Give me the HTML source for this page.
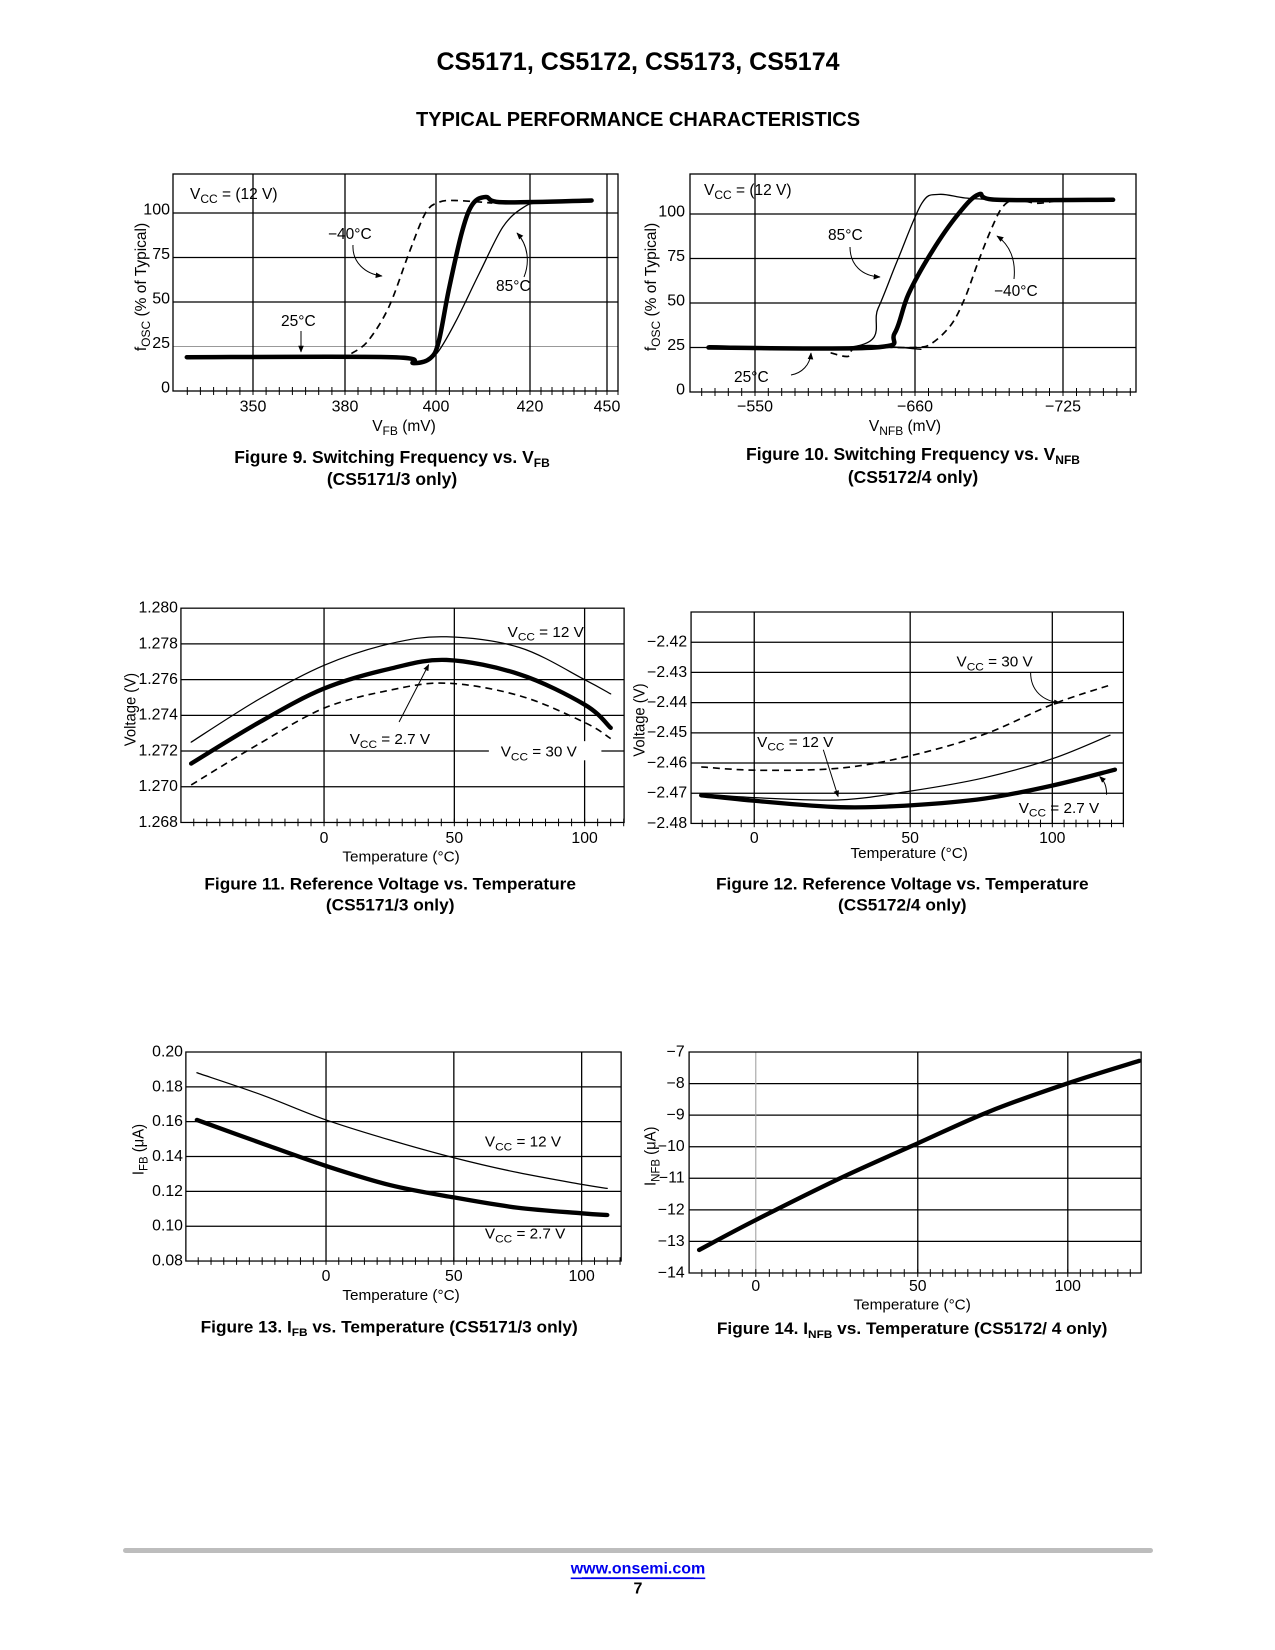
<!DOCTYPE html>
<html><head><meta charset="utf-8"><style>
html,body{margin:0;padding:0;background:#fff;}
body{width:1275px;height:1650px;position:relative;overflow:hidden;font-family:"Liberation Sans",Arial,sans-serif;}
svg{position:absolute;left:0;top:0;}
</style></head><body>
<svg id="page" width="1275" height="1650" viewBox="0 0 1275 1650" font-family="Liberation Sans, Arial, sans-serif">
<defs><marker id="ah" viewBox="0 0 10 10" refX="9" refY="5" markerWidth="7" markerHeight="7" orient="auto"><path d="M0,1 L10,5 L0,9 z" fill="#000"/></marker></defs>
<text x="638" y="62" text-anchor="middle" dominant-baseline="central" font-weight="bold" font-size="25">CS5171, CS5172, CS5173, CS5174</text>
<text x="638" y="120" text-anchor="middle" dominant-baseline="central" font-weight="bold" font-size="20">TYPICAL PERFORMANCE CHARACTERISTICS</text>
<rect x="123" y="1548" width="1030" height="5" rx="2.5" fill="#bdbdbd"/>
<a href="#"><text x="638" y="1569" text-anchor="middle" dominant-baseline="central" font-weight="bold" font-size="16" fill="#0000ee" text-decoration="underline">www.onsemi.com</text></a>
<line x1="582" y1="1578" x2="694" y2="1578" stroke="#0000ee" stroke-width="1.5"/>
<text x="638" y="1589" text-anchor="middle" dominant-baseline="central" font-weight="bold" font-size="16">7</text>
<g id="charts"></g>
</svg>
<script>
// ---------- DATA ----------
// Figure 9 (x: mV, y: % of typical)
const fig9XTicks = [350, 380, 400, 420, 450];
const fig9XLabels = ['350', '380', '400', '420', '450'];
const fig9YTicks = [0, 25, 50, 75, 100];
const fig9YLabels = ['0', '25', '50', '75', '100'];
const fig9X25 = [328.4, 390.4, 395.1, 398.8, 400.6, 402.8, 405.6, 407.8, 410.6, 414.2, 444];
const fig9Y25 = [19, 19, 15.7, 18.5, 28, 58, 90, 105, 109, 106, 107];
const fig9X85 = [398.8, 400.6, 404.2, 409.2, 414.2, 418.5, 424.2, 444];
const fig9Y85 = [18.5, 22.5, 39, 66, 92, 103, 106, 107];
const fig9XM40 = [381.4, 385, 389.6, 394, 397.7, 400.6, 404.2, 412];
const fig9YM40 = [21, 28, 47, 77, 100, 106, 107, 105.6];
// Figure 10 (x: |mV|)
const fig10XTicks = [550, 660, 725];
const fig10XLabels = ['\u2212550', '\u2212660', '\u2212725'];
const fig10YTicks = [0, 25, 50, 75, 100];
const fig10YLabels = ['0', '25', '50', '75', '100'];
const fig10X25 = [518, 632.5, 646, 655.5, 667.5, 679, 688, 696, 747];
const fig10Y25 = [25, 25, 33, 55, 79, 100, 111, 108, 108];
const fig10X85 = [518.4, 621, 634.6, 648, 663, 670.5, 682, 696];
const fig10Y85 = [26, 26, 47, 74, 106, 111, 109, 108];
const fig10XTail = [621, 634.6, 662.6];
const fig10YTail = [26, 26, 24];
const fig10XM40 = [602, 614, 621, 660, 667.5, 676, 682, 688, 694, 698.5, 704, 714, 723.5];
const fig10YM40 = [22, 20, 25, 25, 27.5, 38, 53, 74, 93, 104, 108, 106, 108];
// Figure 11
const fig11XTicks = [0, 50, 100];
const fig11XLabels = ['0', '50', '100'];
const fig11YTicks = [1.268, 1.270, 1.272, 1.274, 1.276, 1.278, 1.280];
const fig11YLabels = ['1.268', '1.270', '1.272', '1.274', '1.276', '1.278', '1.280'];
const fig11Temp = [-51, -25, 0, 25, 47, 75, 100, 110];
const fig11V12 = [1.2725, 1.2749, 1.2768, 1.2780, 1.2784, 1.2778, 1.2760, 1.2752];
const fig11V27 = [1.2713, 1.2736, 1.2755, 1.2766, 1.2771, 1.2763, 1.2746, 1.2733];
const fig11V30 = [1.2701, 1.2724, 1.2744, 1.2754, 1.2758, 1.2751, 1.2736, 1.2727];
// Figure 12
const fig12XTicks = [0, 50, 100];
const fig12XLabels = ['0', '50', '100'];
const fig12YTicks = [-2.48, -2.47, -2.46, -2.45, -2.44, -2.43, -2.42];
const fig12YLabels = ['\u22122.48', '\u22122.47', '\u22122.46', '\u22122.45', '\u22122.44', '\u22122.43', '\u22122.42'];
const fig12Temp = [-17, 1, 27.5, 50, 76, 100.3, 120.3];
const fig12V30 = [-2.4613, -2.4624, -2.4617, -2.4576, -2.4505, -2.4405, -2.4342];
const fig12V12 = [-2.4702, -2.4715, -2.4722, -2.4693, -2.4649, -2.4585, -2.4508];
const fig12Temp27 = [-17, 1, 27.5, 50, 76, 100.3, 122];
const fig12V27 = [-2.4707, -2.4726, -2.4746, -2.4740, -2.4718, -2.4674, -2.4622];
// Figure 13
const fig13XTicks = [0, 50, 100];
const fig13XLabels = ['0', '50', '100'];
const fig13YTicks = [0.08, 0.10, 0.12, 0.14, 0.16, 0.18, 0.20];
const fig13YLabels = ['0.08', '0.10', '0.12', '0.14', '0.16', '0.18', '0.20'];
const fig13Temp = [-50.5, -25, 0, 25, 50, 75, 100, 110];
const fig13I12 = [0.1881, 0.1753, 0.1610, 0.1495, 0.1393, 0.1308, 0.1240, 0.1217];
const fig13I27 = [0.1610, 0.1475, 0.1346, 0.1236, 0.1165, 0.1106, 0.1074, 0.1064];
// Figure 14
const fig14XTicks = [0, 50, 100];
const fig14XLabels = ['0', '50', '100'];
const fig14YTicks = [-14, -13, -12, -11, -10, -9, -8, -7];
const fig14YLabels = ['\u221214', '\u221213', '\u221212', '\u221211', '\u221210', '\u22129', '\u22128', '\u22127'];
const fig14Temp = [-17.5, 0, 26, 50, 73.7, 100, 123.8];
const fig14I = [-13.27, -12.32, -11.0, -9.89, -8.89, -7.99, -7.28];

// ---------- HELPERS ----------
const NS = 'http://www.w3.org/2000/svg';
const root = document.getElementById('charts');
function mk(tag, attrs, parent) {
  const e = document.createElementNS(NS, tag);
  for (const k in attrs) e.setAttribute(k, attrs[k]);
  (parent || root).appendChild(e);
  return e;
}
function pw(d, r) {
  return v => {
    let i = 0;
    while (i < d.length - 2 && v > d[i + 1]) i++;
    return r[i] + (v - d[i]) * (r[i + 1] - r[i]) / (d[i + 1] - d[i]);
  };
}
function smooth(pts) {
  let s = 'M' + pts[0][0].toFixed(1) + ',' + pts[0][1].toFixed(1);
  for (let i = 0; i < pts.length - 1; i++) {
    const p0 = pts[i - 1] || pts[i], p1 = pts[i], p2 = pts[i + 1], p3 = pts[i + 2] || p2;
    const c1 = [p1[0] + (p2[0] - p0[0]) / 6, p1[1] + (p2[1] - p0[1]) / 6];
    const c2 = [p2[0] - (p3[0] - p1[0]) / 6, p2[1] - (p3[1] - p1[1]) / 6];
    s += ' C' + c1.map(v => v.toFixed(1)) + ' ' + c2.map(v => v.toFixed(1)) + ' ' + p2.map(v => v.toFixed(1));
  }
  return s;
}
function richText(g, x, y, parts, opts) {
  const t = mk('text', Object.assign({x: x, y: y, 'font-size': 15.5, 'dominant-baseline': 'alphabetic'}, opts || {}), g);
  let shift = 0;
  parts.forEach(p => {
    const sp = mk('tspan', {}, t);
    const want = p[1] ? 4 : 0;
    if (want !== shift) { sp.setAttribute('dy', want - shift); shift = want; }
    if (p[1]) sp.setAttribute('font-size', '12');
    sp.textContent = p[0];
  });
  return t;
}
function series(g, xs, ys, X, Y, style, name) {
  const pts = X.map((v, i) => [xs(v), ys(Y[i])]);
  const p = mk('path', {d: smooth(pts), fill: 'none', stroke: '#000', 'stroke-linecap': 'round', 'stroke-linejoin': 'round'}, g);
  if (style === 'thick') p.setAttribute('stroke-width', '4.5');
  else if (style === 'dash') { p.setAttribute('stroke-width', '1.7'); p.setAttribute('stroke-dasharray', '7,5'); p.setAttribute('stroke-linecap', 'butt'); }
  else p.setAttribute('stroke-width', '1.3');
  
  
  return p;
}
function arrow(g, d, name) {
  const a = mk('path', {d: d, fill: 'none', stroke: '#000', 'stroke-width': 1, 'marker-end': 'url(#ah)'}, g);
  
  
}
function frame(c) {
  const g = mk('g', {});
  
  
  if (c.origin) {
    const kx = 0.987, ky = 2.87 / 3, ox = c.origin[0], oy = c.origin[1];
    g.setAttribute('transform', 'translate(' + ox + ',' + oy + ') scale(' + kx + ',' + ky + ') translate(' + (-ox) + ',' + (-oy) + ')');
  }
  c.yTicks.forEach((v, i) => {
    const y = c.ys(v);
    if (y > c.T + 1 && y < c.B - 1) {
      const l = mk('line', {x1: c.L, x2: c.R, y1: y, y2: y, stroke: (c.grayY === v ? '#999' : '#000'), 'stroke-width': (c.grayY === v ? 1 : 1.3)}, g);
      
      
    }
    const t = mk('text', {x: c.yLabX, y: y + (c.yLabDy || 0), 'text-anchor': 'end', 'dominant-baseline': 'central', 'font-size': 16}, g);
    
    
    t.textContent = c.yLabels[i];
  });
  const px = c.xTicks.map(v => c.xs(v));
  c.xTicks.forEach((v, i) => {
    const x = px[i];
    if (x > c.L + 1 && x < c.R - 1) {
      const l = mk('line', {x1: x, x2: x, y1: c.T, y2: c.B, stroke: (c.grayX === v ? '#999' : '#000'), 'stroke-width': (c.grayX === v ? 1 : 1.3)}, g);
      
      
    }
    const t = mk('text', {x: x, y: c.xLabY, 'text-anchor': 'middle', 'dominant-baseline': 'central', 'font-size': 16}, g);
    
    
    t.textContent = c.xLabels[i];
  });
  const tk = [];
  for (let i = 0; i < px.length - 1; i++) {
    const n = c.minor[i], st = (px[i + 1] - px[i]) / n;
    for (let k = 0; k <= n; k++) tk.push(px[i] + k * st);
  }
  const s0 = (px[1] - px[0]) / c.minor[0];
  for (let x = px[0] - s0; x > c.L + 2; x -= s0) tk.push(x);
  const sn = (px[px.length - 1] - px[px.length - 2]) / c.minor[c.minor.length - 1];
  for (let x = px[px.length - 1] + sn; x < c.R + 1; x += sn) tk.push(x);
  let d = '';
  tk.forEach(x => { d += 'M' + x.toFixed(1) + ',' + (c.B - 4) + 'V' + (c.B + 4); });
  const ticks = mk('path', {d: d, stroke: '#000', 'stroke-width': 1}, g);
  
  
  const box = mk('rect', {x: c.L, y: c.T, width: c.R - c.L, height: c.B - c.T, fill: 'none', stroke: '#000', 'stroke-width': 1.3}, g);
  
  
  const xt = richText(g, c.xTitle[0], c.xTitle[1], c.xTitle[2], {'text-anchor': 'middle'});
  
  
  const yt = richText(g, 0, 0, c.yTitle[2], {'text-anchor': 'middle', transform: 'translate(' + c.yTitle[0] + ',' + c.yTitle[1] + ') rotate(-90)'});
  
  
  c.caption.forEach((ln, i) => {
    const ct = richText(g, c.capX, c.capY[i], ln, {'text-anchor': 'middle', 'font-weight': 'bold', 'font-size': 17.5});
    
    
  });
  return g;
}

// ---------- FIGURE 9 ----------
(function () {
  const c = {name: 'figure-9-chart', L: 173, T: 174, R: 618, B: 391,
    xs: pw(fig9XTicks, [253, 345, 436, 530, 607]), ys: pw([0, 100], [391, 213]),
    xTicks: fig9XTicks, xLabels: fig9XLabels, yTicks: fig9YTicks, yLabels: fig9YLabels, grayY: 25,
    yLabX: 170, yLabDy: -3, xLabY: 407, minor: [7, 7, 7, 7],
    xTitle: [404, 431, [['V'], ['FB', 1], [' (mV)']]],
    yTitle: [146, 287, [['f'], ['OSC', 1], [' (% of Typical)']]],
    capX: 392, capY: [463, 485], caption: [[['Figure 9. Switching Frequency vs. V'], ['FB', 1]], [['(CS5171/3 only)']]]};
  const g = frame(c);
  series(g, c.xs, c.ys, fig9XM40, fig9YM40, 'dash', 'series-minus40c');
  series(g, c.xs, c.ys, fig9X85, fig9Y85, 'thin', 'series-85c');
  series(g, c.xs, c.ys, fig9X25, fig9Y25, 'thick', 'series-25c');
  let t = richText(g, 190, 199, [['V'], ['CC', 1], [' = (12 V)']]);  
  t = richText(g, 328, 239, [['\u221240\u00b0C']]);  
  t = richText(g, 496, 291, [['85\u00b0C']]);  
  t = richText(g, 281, 326, [['25\u00b0C']]);  
  arrow(g, 'M353,245 C352,262 365,274 382,276', 'arrow-minus40c');
  arrow(g, 'M524,277 C530,262 528,245 517,233', 'arrow-85c');
  arrow(g, 'M301,331 L301,352', 'arrow-25c');
})();

// ---------- FIGURE 10 ----------
(function () {
  const c = {name: 'figure-10-chart', L: 690, T: 174, R: 1136, B: 392,
    xs: pw(fig10XTicks, [755, 915, 1063]), ys: pw([0, 100], [392, 214]),
    xTicks: fig10XTicks, xLabels: fig10XLabels, yTicks: fig10YTicks, yLabels: fig10YLabels,
    yLabX: 685, yLabDy: -2, xLabY: 407, minor: [12, 11],
    xTitle: [905, 431, [['V'], ['NFB', 1], [' (mV)']]],
    yTitle: [656, 287, [['f'], ['OSC', 1], [' (% of Typical)']]],
    capX: 913, capY: [460, 483], caption: [[['Figure 10. Switching Frequency vs. V'], ['NFB', 1]], [['(CS5172/4 only)']]]};
  const g = frame(c);
  series(g, c.xs, c.ys, fig10XM40, fig10YM40, 'dash', 'series-minus40c');
  series(g, c.xs, c.ys, fig10XTail, fig10YTail, 'thin', 'series-85c-tail');
  series(g, c.xs, c.ys, fig10X85, fig10Y85, 'thin', 'series-85c');
  series(g, c.xs, c.ys, fig10X25, fig10Y25, 'thick', 'series-25c');
  let t = richText(g, 704, 195, [['V'], ['CC', 1], [' = (12 V)']]);  
  t = richText(g, 828, 240, [['85\u00b0C']]);  
  t = richText(g, 994, 296, [['\u221240\u00b0C']]);  
  t = richText(g, 734, 382, [['25\u00b0C']]);  
  arrow(g, 'M850,247 C850,265 862,276 880,277', 'arrow-85c');
  arrow(g, 'M1014,279 C1016,260 1010,245 997,236', 'arrow-minus40c');
  arrow(g, 'M791,375 C802,373 810,365 811,353', 'arrow-25c');
})();

// ---------- FIGURE 11 ----------
(function () {
  const c = {name: 'figure-11-chart', origin: [100, 590], L: 182, T: 609, R: 631, B: 833,
    xs: pw([0, 100], [327, 591]), ys: pw([1.268, 1.280], [833, 609]),
    xTicks: fig11XTicks, xLabels: fig11XLabels, yTicks: fig11YTicks, yLabels: fig11YLabels,
    yLabX: 179, xLabY: 850, minor: [10, 10],
    xTitle: [405, 874, [['Temperature (\u00b0C)']]],
    yTitle: [136, 715, [['Voltage (V)']]],
    capX: 394, capY: [903, 925], caption: [[['Figure 11. Reference Voltage vs. Temperature']], [['(CS5171/3 only)']]]};
  const g = frame(c);
  series(g, c.xs, c.ys, fig11Temp, fig11V30, 'dash', 'series-vcc-30v');
  series(g, c.xs, c.ys, fig11Temp, fig11V12, 'thin', 'series-vcc-12v');
  series(g, c.xs, c.ys, fig11Temp, fig11V27, 'thick', 'series-vcc-2-7v');
  mk('rect', {x: 494, y: 748, width: 114, height: 20, fill: '#fff'}, g);
  let t = richText(g, 513, 639, [['V'], ['CC', 1], [' = 12 V']]);  
  t = richText(g, 353, 751, [['V'], ['CC', 1], [' = 2.7 V']]);  
  t = richText(g, 506, 764, [['V'], ['CC', 1], [' = 30 V']]);  
  arrow(g, 'M403,728 L433,668', 'arrow-vcc-2-7v');
})();

// ---------- FIGURE 12 ----------
(function () {
  const c = {name: 'figure-12-chart', origin: [620, 590], L: 692, T: 613, R: 1130, B: 834,
    xs: pw(fig12XTicks, [756, 914, 1058]), ys: pw([-2.48, -2.41], [834, 613]),
    xTicks: fig12XTicks, xLabels: fig12XLabels, yTicks: fig12YTicks, yLabels: fig12YLabels,
    yLabX: 688, xLabY: 850, minor: [12, 12],
    xTitle: [913, 870, [['Temperature (\u00b0C)']]],
    yTitle: [645, 726, [['Voltage (V)']]],
    capX: 906, capY: [903, 925], caption: [[['Figure 12. Reference Voltage vs. Temperature']], [['(CS5172/4 only)']]]};
  const g = frame(c);
  series(g, c.xs, c.ys, fig12Temp, fig12V30, 'dash', 'series-vcc-30v');
  series(g, c.xs, c.ys, fig12Temp, fig12V12, 'thin', 'series-vcc-12v');
  series(g, c.xs, c.ys, fig12Temp27, fig12V27, 'thick', 'series-vcc-2-7v');
  let t = richText(g, 961, 670, [['V'], ['CC', 1], [' = 30 V']]);  
  t = richText(g, 759, 754, [['V'], ['CC', 1], [' = 12 V']]);  
  t = richText(g, 1024, 823, [['V'], ['CC', 1], [' = 2.7 V']]);  
  arrow(g, 'M1036,676 C1036,695 1048,706 1066,708', 'arrow-vcc-30v');
  arrow(g, 'M826,757 L841,806', 'arrow-vcc-12v');
  arrow(g, 'M1113,804 C1113,795 1111,790 1106,785', 'arrow-vcc-2-7v');
})();

// ---------- FIGURE 13 ----------
(function () {
  const c = {name: 'figure-13-chart', origin: [100, 1030], L: 187, T: 1053, R: 628, B: 1271.5,
    xs: pw([0, 100], [329, 588]), ys: pw([0.08, 0.20], [1271.5, 1053]),
    xTicks: fig13XTicks, xLabels: fig13XLabels, yTicks: fig13YTicks, yLabels: fig13YLabels,
    yLabX: 184, xLabY: 1288, minor: [10, 10],
    xTitle: [405, 1312, [['Temperature (\u00b0C)']]],
    yTitle: [144, 1155, [['I'], ['FB', 1], [' (\u03bcA)']]],
    capX: 393, capY: [1346], caption: [[['Figure 13. I'], ['FB', 1], [' vs. Temperature  (CS5171/3 only)']]]};
  const g = frame(c);
  series(g, c.xs, c.ys, fig13Temp, fig13I12, 'thin', 'series-vcc-12v');
  series(g, c.xs, c.ys, fig13Temp, fig13I27, 'thick', 'series-vcc-2-7v');
  let t = richText(g, 490, 1152, [['V'], ['CC', 1], [' = 12 V']]);  
  t = richText(g, 490, 1248, [['V'], ['CC', 1], [' = 2.7 V']]);  
})();

// ---------- FIGURE 14 ----------
(function () {
  const c = {name: 'figure-14-chart', origin: [620, 1030], L: 690, T: 1053, R: 1148, B: 1284,
    xs: pw(fig14XTicks, [757.6, 921.7, 1073.7]), ys: pw([-14, -7], [1284, 1053]),
    xTicks: fig14XTicks, xLabels: fig14XLabels, yTicks: fig14YTicks, yLabels: fig14YLabels, grayX: 0,
    yLabX: 685.5, xLabY: 1298, minor: [12, 12],
    xTitle: [916, 1322, [['Temperature (\u00b0C)']]],
    yTitle: [656, 1162, [['I'], ['NFB', 1], [' (\u03bcA)']]],
    capX: 916, capY: [1348], caption: [[['Figure 14. I'], ['NFB', 1], [' vs. Temperature (CS5172/ 4 only)']]]};
  const g = frame(c);
  series(g, c.xs, c.ys, fig14Temp, fig14I, 'thick', 'series-infb');
})();
</script>
</body></html>
